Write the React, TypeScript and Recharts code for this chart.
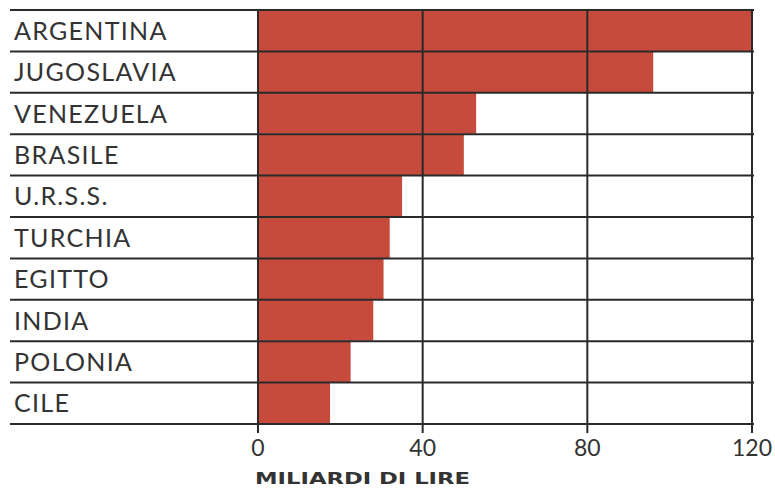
import { BarChart, Bar, XAxis, YAxis, ReferenceLine } from "recharts";

const countries = ["ARGENTINA", "JUGOSLAVIA", "VENEZUELA", "BRASILE", "U.R.S.S.", "TURCHIA", "EGITTO", "INDIA", "POLONIA", "CILE"];
const values = [120, 96, 53, 50, 35, 32, 30.5, 28, 22.5, 17.5];
const xTicks = [0, 40, 80, 120];

const data = countries.map((nome, i) => ({ nome, valore: values[i] }));

const W = 775;
const H = 490;
const X_AXIS_H = 30;
const M = { top: 10, right: 23, left: 10, bottom: 66 - X_AXIS_H };
const ROW = (H - 10 - 66) / countries.length;
const INK = "#2a2a2a";
const RED = "#c64b3c";
const FONT = "Lato, 'DejaVu Sans', sans-serif";

// label + the row separator lines that run across the whole table
const CountryTick = ({ y, payload }: any) => {
  const last = payload.value === countries[countries.length - 1];
  return (
    <g>
      <line x1={10} x2={754} y1={y - ROW / 2} y2={y - ROW / 2} stroke={INK} strokeWidth={2} />
      {last && <line x1={10} x2={754} y1={y + ROW / 2} y2={y + ROW / 2} stroke={INK} strokeWidth={2} />}
      <text x={14} y={y} dy="0.36em" fontSize={25} fill="#333" fontFamily={FONT} letterSpacing={1.3}>
        {payload.value}
      </text>
    </g>
  );
};

const ValueTick = ({ x, y, payload }: any) => (
  <text x={x} y={y + 21} textAnchor="middle" fontSize={23} fill="#333" fontFamily={FONT}>
    {payload.value}
  </text>
);

const UnitLabel = ({ viewBox }: any) => (
  <text
    x={viewBox.x - 3}
    y={viewBox.y + 60}
    fontSize={16}
    fontWeight="bold"
    fill="#333"
    fontFamily="'DejaVu Sans', sans-serif"
    textLength={215}
    lengthAdjust="spacingAndGlyphs"
  >
    MILIARDI DI LIRE
  </text>
);

export default function App() {
  return (
    <div style={{ position: "absolute", left: 0, top: 0, width: W, height: H, background: "#fff" }}>
      <BarChart width={W} height={H} data={data} layout="vertical" margin={M} barCategoryGap={0}>
        <Bar dataKey="valore" fill={RED} isAnimationActive={false} />
        {xTicks.map((t) => (
          <ReferenceLine key={t} x={t} stroke={INK} strokeWidth={2} />
        ))}
        <XAxis
          type="number"
          domain={[0, 120]}
          ticks={xTicks}
          height={X_AXIS_H}
          axisLine={false}
          tickSize={9}
          tickLine={{ stroke: INK, strokeWidth: 2 }}
          tick={<ValueTick />}
          label={<UnitLabel />}
        />
        <YAxis type="category" dataKey="nome" width={248} axisLine={false} tickLine={false} interval={0} tick={<CountryTick />} />
      </BarChart>
    </div>
  );
}
